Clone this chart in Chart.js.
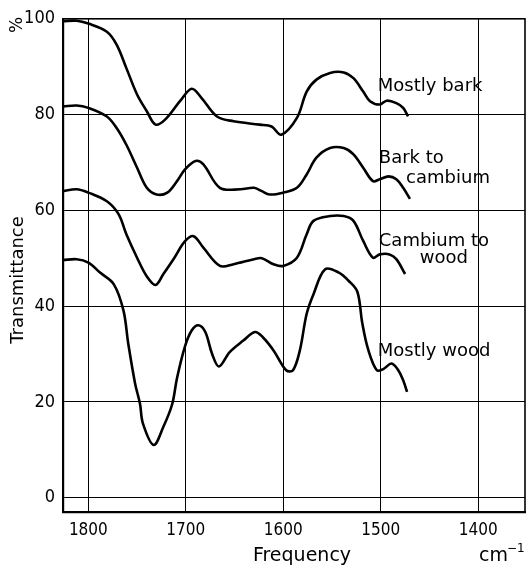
<!DOCTYPE html>
<html>
<head>
<meta charset="utf-8">
<script src="https://cdn.jsdelivr.net/npm/chart.js@4.4.1/dist/chart.umd.min.js"></script>
<style>
  html, body { margin: 0; padding: 0; background: #fff; }
  #wrap { width: 526px; height: 567px; }
</style>
</head>
<body>
<div id="wrap"><canvas id="irChart" width="526" height="567"></canvas></div>
<script>
// frequency ticks (cm-1) and transmittance ticks (%)
const xTicks = [1800, 1700, 1600, 1500, 1400];
const yTicks = [0, 20, 40, 60, 80, 100];

// Mostly bark
const barkFreq = [1826, 1812, 1800, 1781, 1771, 1761, 1750, 1740, 1731, 1721, 1706, 1694, 1684, 1668, 1651, 1624, 1612, 1602, 1586, 1576, 1566, 1552, 1538, 1528, 1518, 1511, 1501, 1494, 1484, 1477, 1472];
const barkT = [99.5, 99.6, 99, 97.3, 94.6, 89.7, 84.2, 80.7, 77.9, 79, 82.8, 85.4, 83.5, 79.6, 78.6, 77.9, 77.5, 75.8, 79.3, 84.8, 87.3, 88.7, 88.8, 87.6, 84.8, 82.8, 82.1, 82.9, 82.4, 81.4, 79.6];

// Bark to cambium
const barkCambFreq = [1826, 1812, 1800, 1781, 1771, 1761, 1750, 1740, 1730, 1719, 1709, 1701, 1690, 1682, 1665, 1644, 1630, 1622, 1614, 1600, 1586, 1576, 1566, 1552, 1538, 1528, 1518, 1508, 1501, 1492, 1484, 1477, 1470];
const barkCambT = [81.7, 81.9, 81.4, 79.6, 77.2, 73.7, 68.9, 64.7, 63.3, 63.7, 66.1, 68.5, 70.3, 69.6, 64.7, 64.4, 64.7, 64, 63.3, 63.7, 64.7, 67.5, 71, 73, 73, 71.7, 68.9, 66.1, 66.5, 67.1, 66.5, 64.7, 62.4];

// Cambium to wood
const cambWoodFreq = [1826, 1812, 1800, 1781, 1769, 1761, 1750, 1740, 1731, 1723, 1712, 1701, 1692, 1682, 1665, 1651, 1630, 1622, 1610, 1600, 1586, 1576, 1569, 1552, 1538, 1528, 1518, 1508, 1501, 1491, 1484, 1475];
const cambWoodT = [64, 64.4, 63.7, 61.9, 59.2, 55, 50.1, 46.2, 44.4, 46.7, 50, 53.5, 54.6, 52.2, 48.4, 48.75, 49.8, 50, 48.75, 48.4, 50.1, 55, 57.8, 58.8, 58.8, 57.8, 53.6, 50.1, 50.8, 50.8, 49.8, 46.7];

// Mostly wood
const woodFreq = [1826, 1812, 1800, 1788, 1774, 1764, 1759, 1752, 1747, 1744, 1733, 1723, 1714, 1709, 1701, 1694, 1687, 1680, 1673, 1666, 1655, 1641, 1629, 1621, 1610, 1597, 1590, 1583, 1576, 1569, 1557, 1543, 1533, 1524, 1519, 1513, 1504, 1497, 1489, 1482, 1477, 1473];
const woodT = [49.6, 49.8, 49.1, 47, 44.6, 39.1, 32.1, 23.8, 19.6, 15.5, 11, 14.8, 19.5, 25, 31.5, 34.9, 36, 34.6, 30, 27.4, 30.4, 32.8, 34.6, 33.5, 30.75, 26.6, 26.6, 30.75, 38.4, 42.5, 47.7, 47, 45.3, 43, 36.5, 31, 26.6, 26.9, 28, 26.6, 24.5, 22.1];

// curve labels: [text, freq, transmittance]
const curveLabels = [
    ['Mostly bark', 1503, 84.9],
    ['Bark to', 1502, 69.9],
    ['cambium', 1474, 65.75],
    ['Cambium to', 1502, 52.6],
    ['wood', 1460, 49.1],
    ['Mostly wood', 1503, 29.6]
];

function toPoints(xs, ys) {
    return xs.map((x, i) => ({ x: x, y: ys[i] }));
}

function curve(label, xs, ys) {
    return {
        label: label,
        data: toPoints(xs, ys),
        borderColor: '#000',
        borderWidth: 2.6,
        pointRadius: 0,
        fill: false,
        tension: 0.35
    };
}

const textFont = '"DejaVu Sans", sans-serif';
const tickFont = '"DejaVu Sans Condensed", "DejaVu Sans", sans-serif';

const decorPlugin = {
    id: 'decor',
    afterDraw(chart) {
        const ctx = chart.ctx;
        const a = chart.chartArea;
        const xs = chart.scales.x;
        const ys = chart.scales.y;
        ctx.save();
        // frame
        ctx.strokeStyle = '#000';
        ctx.lineWidth = 1.6;
        ctx.strokeRect(a.left, a.top, a.right - a.left, a.bottom - a.top);

        ctx.fillStyle = '#000';
        ctx.textBaseline = 'alphabetic';
        ctx.textAlign = 'left';
        ctx.font = '18px ' + textFont;
        curveLabels.forEach(l => {
            ctx.fillText(l[0], xs.getPixelForValue(l[1]), ys.getPixelForValue(l[2]));
        });

        // x title
        ctx.font = '19px ' + textFont;
        ctx.textAlign = 'center';
        ctx.fillText('Frequency', 302, 561);
        ctx.textAlign = 'left';
        ctx.fillText('cm', 479, 561);
        ctx.font = '12px ' + textFont;
        ctx.fillText('−1', 507, 552);

        // y title
        ctx.font = '18px ' + textFont;
        ctx.translate(23, 280);
        ctx.rotate(-Math.PI / 2);
        ctx.textAlign = 'center';
        ctx.fillText('Transmittance', 0, 0);
        ctx.restore();

        ctx.save();
        ctx.fillStyle = '#000';
        ctx.font = '17px ' + textFont;
        ctx.translate(22, 25);
        ctx.rotate(-Math.PI / 2);
        ctx.textAlign = 'center';
        ctx.fillText('%', 0, 0);
        ctx.restore();
    }
};

new Chart(document.getElementById('irChart').getContext('2d'), {
    type: 'line',
    data: {
        datasets: [
            curve('Mostly bark', barkFreq, barkT),
            curve('Bark to cambium', barkCambFreq, barkCambT),
            curve('Cambium to wood', cambWoodFreq, cambWoodT),
            curve('Mostly wood', woodFreq, woodT)
        ]
    },
    options: {
        responsive: false,
        animation: false,
        layout: { padding: { left: 0, top: 17, right: 1, bottom: 0 } },
        plugins: {
            legend: { display: false },
            tooltip: { enabled: false }
        },
        scales: {
            x: {
                type: 'linear',
                reverse: true,
                min: 1352,
                max: 1826,
                afterBuildTicks: axis => { axis.ticks = xTicks.map(v => ({ value: v })); },
                afterFit: axis => { axis.height = 55; },
                grid: { color: '#000', lineWidth: 1, drawTicks: false },
                border: { color: '#000', width: 2.2 },
                ticks: {
                    color: '#000',
                    padding: 8,
                    maxRotation: 0,
                    callback: v => String(v),
                    font: { family: tickFont, size: 17 }
                }
            },
            y: {
                min: -3,
                max: 100,
                afterBuildTicks: axis => { axis.ticks = yTicks.map(v => ({ value: v })); },
                afterFit: axis => { axis.width = 63; },
                grid: { color: '#000', lineWidth: 1, drawTicks: false },
                border: { color: '#000', width: 2.2 },
                ticks: {
                    color: '#000',
                    padding: 8,
                    callback: v => String(v),
                    font: { family: tickFont, size: 18 }
                }
            }
        }
    },
    plugins: [decorPlugin]
});
</script>
</body>
</html>
